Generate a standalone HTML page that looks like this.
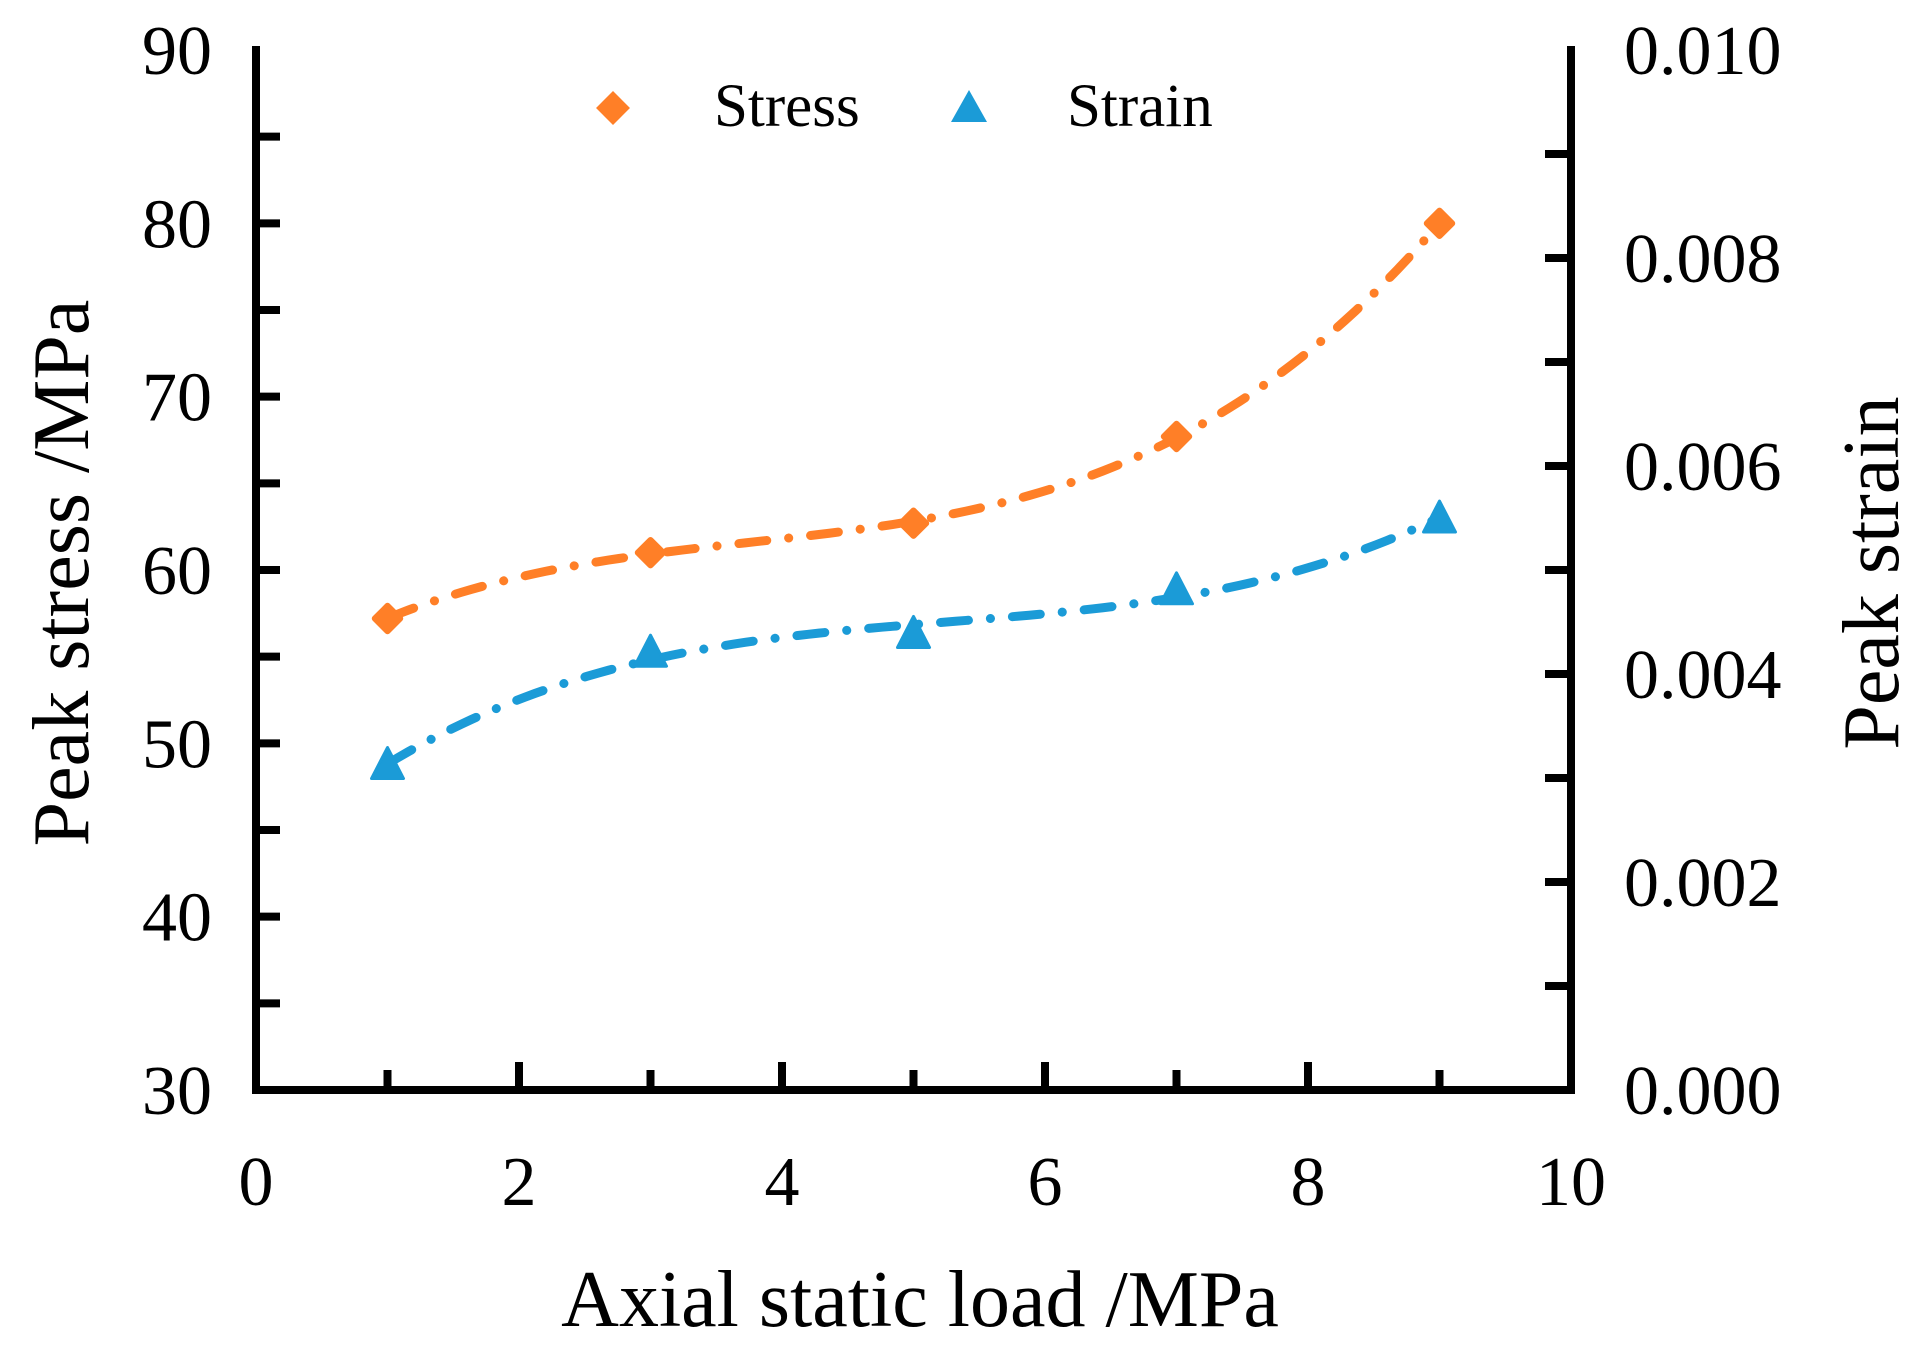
<!DOCTYPE html>
<html><head><meta charset="utf-8"><style>
html,body{margin:0;padding:0;background:#fff;}
svg{display:block;font-family:"Liberation Serif",serif;}
</style></head><body>
<svg id="chart" width="1915" height="1351" viewBox="0 0 1915 1351">
<g id="axes"></g>
<g id="series"></g>
<g>
  <rect x="601" y="96" width="24" height="24" fill="#FF7F27" transform="rotate(45 613 108)"/>
  <text x="714" y="126" font-size="61">Stress</text>
  <polygon points="969,90 987,122 951,122" fill="#1B9BD7"/>
  <text x="1067" y="126" font-size="61">Strain</text>
</g>
<text x="920" y="1326" font-size="80" text-anchor="middle">Axial static load /MPa</text>
<text transform="translate(88 573) rotate(-90)" font-size="80" text-anchor="middle">Peak stress /MPa</text>
<text transform="translate(1898 573) rotate(-90)" font-size="80" text-anchor="middle">Peak strain</text>
</svg>
<script>
const xValues = [1, 3, 5, 7, 9];
const stressValues = [57.2, 61.0, 62.7, 67.7, 80.0];
const strainValues = [0.00312, 0.0042, 0.00438, 0.0048, 0.00549];
const xTickLabels = ["0", "2", "4", "6", "8", "10"];
const leftTickLabels = ["30", "40", "50", "60", "70", "80", "90"];
const rightTickLabels = ["0.000", "0.002", "0.004", "0.006", "0.008", "0.010"];

const L = 256, R = 1571, T = 50, B = 1090;
const xs = v => L + (v - 0) / 10 * (R - L);
const yl = v => B - (v - 30) / 60 * (B - T);
const yr = v => B - v / 0.01 * (B - T);
const NS = "http://www.w3.org/2000/svg";
function mk(tag, attrs, parent) {
  const e = document.createElementNS(NS, tag);
  for (const k in attrs) e.setAttribute(k, attrs[k]);
  parent.appendChild(e);
  return e;
}
const axes = document.getElementById('axes');
const series = document.getElementById('series');
const SW = 8;
let a = mk('line', {x1: L, y1: B, x2: R, y2: B, stroke: '#000', 'stroke-width': SW}, axes);


a = mk('line', {x1: L, y1: T - 4, x2: L, y2: B + 4, stroke: '#000', 'stroke-width': SW}, axes);


a = mk('line', {x1: R, y1: T - 4, x2: R, y2: B + 4, stroke: '#000', 'stroke-width': SW}, axes);



for (let v = 1; v < 10; v++) {
  const major = v % 2 === 0;
  const t = mk('line', {x1: xs(v), x2: xs(v), y1: B, y2: B - (major ? 28 : 20), stroke: '#000', 'stroke-width': SW}, axes);
  
  
}
xTickLabels.forEach((s, i) => {
  const t = mk('text', {x: xs(i * 2), y: 1205, 'font-size': 70, 'text-anchor': 'middle'}, axes);
  t.textContent = s;
  
  
});
for (let v = 35; v < 90; v += 5) {
  const t = mk('line', {x1: L, x2: L + 24, y1: yl(v), y2: yl(v), stroke: '#000', 'stroke-width': SW}, axes);
  
  
}
leftTickLabels.forEach((s, i) => {
  const t = mk('text', {x: 212, y: yl(30 + i * 10) + 24, 'font-size': 70, 'text-anchor': 'end'}, axes);
  t.textContent = s;
  
  
});
for (let k = 1; k < 10; k++) {
  const t = mk('line', {x1: R - 26, x2: R, y1: yr(k * 0.001), y2: yr(k * 0.001), stroke: '#000', 'stroke-width': SW}, axes);
  
  
}
rightTickLabels.forEach((s, i) => {
  const t = mk('text', {x: 1624, y: yr(i * 0.002) + 24, 'font-size': 70, 'text-anchor': 'start'}, axes);
  t.textContent = s;
  
  
});

// least-squares cubic fit trend line
function polyfit(xv, yv, deg) {
  const n = deg + 1;
  const A = [];
  for (let i = 0; i < n; i++) {
    A.push(new Array(n + 1).fill(0));
    for (let j = 0; j < n; j++) A[i][j] = xv.reduce((s, x) => s + Math.pow(x, i + j), 0);
    A[i][n] = xv.reduce((s, x, k) => s + Math.pow(x, i) * yv[k], 0);
  }
  for (let c = 0; c < n; c++) {
    let piv = c;
    for (let r = c + 1; r < n; r++) if (Math.abs(A[r][c]) > Math.abs(A[piv][c])) piv = r;
    [A[c], A[piv]] = [A[piv], A[c]];
    for (let r = 0; r < n; r++) {
      if (r === c) continue;
      const f = A[r][c] / A[c][c];
      for (let k = c; k <= n; k++) A[r][k] -= f * A[c][k];
    }
  }
  return A.map((row, i) => row[n] / row[i]);
}
function trendPath(xv, yv, ymap) {
  const co = polyfit(xv, yv, 3);
  const f = x => co.reduce((s, c, i) => s + c * Math.pow(x, i), 0);
  const x0 = Math.min(...xv), x1 = Math.max(...xv);
  let d = '';
  for (let i = 0; i <= 100; i++) {
    const x = x0 + (x1 - x0) * i / 100;
    d += (i ? ' L' : 'M') + xs(x).toFixed(2) + ',' + ymap(f(x)).toFixed(2);
  }
  return d;
}
let p = mk('path', {d: trendPath(xValues, stressValues, yl), fill: 'none', stroke: '#FF7F27', 'stroke-width': 9, 'stroke-linecap': 'round', 'stroke-dasharray': '28 22 0.1 22'}, series);


p = mk('path', {d: trendPath(xValues, strainValues, yr), fill: 'none', stroke: '#1B9BD7', 'stroke-width': 9, 'stroke-linecap': 'round', 'stroke-dasharray': '28 22 0.1 22'}, series);


xValues.forEach((xv, i) => {
  const x = xs(xv), y = yl(stressValues[i]);
  const m = mk('rect', {x: x - 12, y: y - 12, width: 24, height: 24, rx: 3, fill: '#FF7F27', transform: `rotate(45 ${x} ${y})`}, series);
  
  
});
xValues.forEach((xv, i) => {
  const x = xs(xv), y = yr(strainValues[i]);
  const m = mk('polygon', {points: `${x},${y - 18} ${x + 16},${y + 13} ${x - 16},${y + 13}`, fill: '#1B9BD7', stroke: '#1B9BD7', 'stroke-width': 3, 'stroke-linejoin': 'round'}, series);
  
  
});
</script>
</body></html>
